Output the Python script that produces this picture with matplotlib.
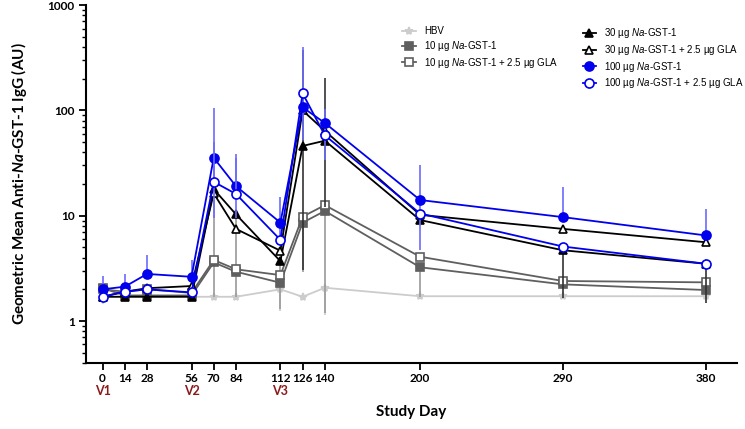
import numpy as np
import matplotlib
matplotlib.use("Agg")
import matplotlib.pyplot as plt
from matplotlib.lines import Line2D

plt.rcParams['font.family'] = ['Liberation Sans', 'DejaVu Sans']
plt.rcParams['mathtext.fontset'] = 'custom'
plt.rcParams['mathtext.rm'] = 'Liberation Sans'
plt.rcParams['mathtext.it'] = 'Liberation Sans:italic'
plt.rcParams['mathtext.bf'] = 'Lato:bold'
plt.rcParams['mathtext.bfit'] = 'Lato:italic:bold'

## data
days = [0, 14, 28, 56, 70, 84, 112, 126, 140, 200, 290, 380]
visits = ["V1", "V2", "V3"]
visit_days = [0, 56, 112]

hbv = [1.7, 1.7, 1.7, 1.7, 1.7, 1.7, 2.0, 1.7, 2.07, 1.72, 1.72, 1.72]
hbv_lo = [1.45, 1.7, 1.7, 1.7, 1.7, 1.7, 1.25, 1.7, 1.15, 1.72, 1.72, 1.72]
hbv_hi = [1.7, 1.7, 1.7, 1.7, 1.7, 1.7, 2.0, 1.7, 2.07, 1.72, 1.72, 1.72]

sq = [2.05, 1.75, 1.75, 1.75, 3.6, 2.94, 2.31, 8.6, 11.1, 3.24, 2.23, 1.97]
sq_lo = [2.05, 1.75, 1.75, 1.75, 1.7, 1.7, 1.3, 2.9, 1.19, 1.7, 2.23, 1.97]
sq_hi = [2.05, 1.75, 1.75, 1.75, 14, 10, 2.31, 8.6, 11.1, 3.24, 2.23, 1.97]

sqg = [2.0, 1.9, 2.0, 1.85, 3.8, 3.1, 2.73, 9.8, 12.6, 4.08, 2.4, 2.33]
sqg_lo = sqg
sqg_hi = [2.0, 1.9, 2.0, 1.85, 3.8, 3.1, 3.7, 9.8, 12.6, 4.08, 2.4, 2.33]

tri = [1.7, 1.7, 1.7, 1.7, 17.9, 10.3, 3.7, 46, 51.6, 9.1, 4.7, 3.5]
tri_lo = [1.7, 1.7, 1.7, 1.7, 17.9, 10.3, 3.7, 3.05, 12, 9.1, 1.65, 1.48]
tri_hi = [1.7, 1.7, 1.7, 1.7, 17.9, 10.3, 3.7, 375, 205, 9.1, 4.7, 3.5]

trig = [1.7, 1.9, 2.05, 2.15, 16.3, 7.5, 4.65, 100, 64, 10.2, 7.5, 5.6]
trig_lo = trig
trig_hi = trig

bl = [2.0, 2.12, 2.8, 2.63, 35.5, 19.1, 8.6, 107, 76, 14.1, 9.7, 6.5]
bl_lo = [2.0, 2.12, 2.8, 2.63, 9.5, 9.5, 5.5, 52, 34, 4.7, 9.7, 6.5]
bl_hi = [2.7, 2.8, 4.2, 3.8, 105, 39, 15.1, 403, 103, 30, 18.8, 11.5]

blg = [1.7, 1.9, 2.0, 1.87, 21, 16.1, 5.9, 145, 58, 10.5, 5.1, 3.5]
blg_lo = blg
blg_hi = [1.7, 1.9, 2.0, 1.87, 50, 35, 5.9, 145, 58, 10.5, 5.1, 3.5]

labels = ["HBV",
          r"10 µg $\it{Na}$-GST-1",
          r"10 µg $\it{Na}$-GST-1 + 2.5 µg GLA",
          r"30 µg $\it{Na}$-GST-1",
          r"30 µg $\it{Na}$-GST-1 + 2.5 µg GLA",
          r"100 µg $\it{Na}$-GST-1",
          r"100 µg $\it{Na}$-GST-1 + 2.5 µg GLA"]

fig = plt.figure(figsize=(7.45, 4.29), dpi=100)
ax = fig.add_axes([0.116, 0.154, 0.873, 0.834])

GRAY = "#5f5f5f"
BLUE = "#0000ee"

series = [
    (hbv, hbv_lo, hbv_hi, "#cccccc", "#cccccc", "*", "#cccccc", 6),
    (sq, sq_lo, sq_hi, GRAY, "#9a9a9a", "s", GRAY, 6),
    (sqg, sqg_lo, sqg_hi, GRAY, "#9a9a9a", "s", "white", 6),
    (tri, tri_lo, tri_hi, "black", "#333333", "^", "black", 6),
    (trig, trig_lo, trig_hi, "black", "#333333", "^", "white", 6),
    (bl, bl_lo, bl_hi, BLUE, "#6b6bff", "o", BLUE, 6.5),
    (blg, blg_lo, blg_hi, BLUE, "#6b6bff", "o", "white", 6.5),
]

handles = []
for i, (v, lo, hi, c, ec, m, fc, ms) in enumerate(series):
    v = np.array(v); lo = np.array(lo); hi = np.array(hi)
    ax.errorbar(days, v, yerr=[v - lo, hi - v], fmt="none", ecolor=ec,
                elinewidth=1.2, capsize=0, zorder=2 + i)
    ax.plot(days, v, color=c, lw=1.3, marker=m, ms=ms, mfc=fc, mec=c,
            mew=1.2, zorder=3 + i)
    handles.append(Line2D([], [], color=c, lw=1.3, marker=m, ms=ms, mfc=fc,
                          mec=c, mew=1.2))

ax.set_yscale("log")
ax.set_ylim(0.4, 1000)
ax.set_xlim(-10.2, 399.5)
ax.set_xticks(days)
ax.set_xticklabels([str(d) for d in days], fontfamily="Lato", fontweight="bold")
ax.set_yticks([1, 10, 100, 1000])
ax.set_yticklabels(["1", "10", "100", "1000"], fontfamily="Lato",
                   fontweight="bold")
ax.tick_params(axis="both", labelsize=8.5, width=1.3, length=5, direction="out")
ax.tick_params(axis="y", which="minor", length=3, width=1)
ax.tick_params(axis="x", pad=2)
for s in ["top", "right"]:
    ax.spines[s].set_visible(False)
for s in ["left", "bottom"]:
    ax.spines[s].set_linewidth(1.5)

for vl, vd in zip(visits, visit_days):
    ax.text(vd, -0.078, vl, transform=ax.get_xaxis_transform(), ha="center",
            va="center", color="#8b1a1a", fontweight="bold", fontfamily="Lato",
            fontsize=9)

ax.set_xlabel("Study Day", fontfamily="Lato", fontweight="bold", fontsize=11)
ax.xaxis.set_label_coords(0.5, -0.118)
ax.set_ylabel(r"Geometric Mean Anti-$\mathbfit{Na}$-GST-1 IgG (AU)",
              fontfamily="Lato", fontweight="bold", fontsize=11, labelpad=13)

leg1 = ax.legend(handles[:3], labels[:3], loc="upper left",
                 bbox_to_anchor=(0.48, 0.952), frameon=False, fontsize=7,
                 handlelength=1.4, labelspacing=0.28, borderaxespad=0)
ax.add_artist(leg1)
ax.legend(handles[3:], labels[3:], loc="upper left",
          bbox_to_anchor=(0.757, 0.952), frameon=False, fontsize=7,
          handlelength=1.4, labelspacing=0.28, borderaxespad=0)

fig.savefig("out.png", dpi=100)
